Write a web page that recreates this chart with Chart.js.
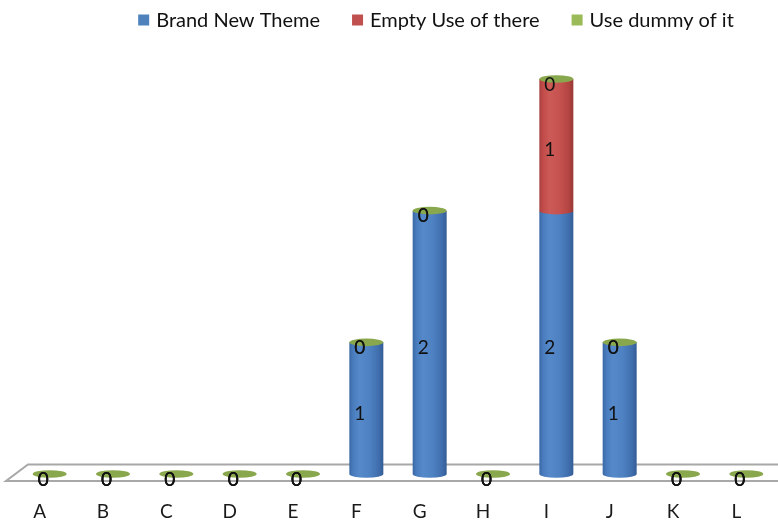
<!DOCTYPE html>
<html>
<head>
<meta charset="utf-8">
<script src="https://cdn.jsdelivr.net/npm/chart.js@4/dist/chart.umd.min.js"></script>
<style>
  html, body { margin: 0; padding: 0; background: #ffffff; }
  #wrap { width: 778px; height: 521px; position: relative; }
</style>
</head>
<body>
<div id="wrap"><canvas id="chart"></canvas></div>
<script>
// Categories and series values
const categories = ['A', 'B', 'C', 'D', 'E', 'F', 'G', 'H', 'I', 'J', 'K', 'L'];
const brandNewTheme = [0, 0, 0, 0, 0, 1, 2, 0, 2, 1, 0, 0];
const emptyUseOfThere = [0, 0, 0, 0, 0, 0, 0, 0, 1, 0, 0, 0];
const useDummyOfIt = [0, 0, 0, 0, 0, 0, 0, 0, 0, 0, 0, 0];
const seriesNames = ['Brand New Theme', 'Empty Use of there', 'Use dummy of it'];
const valueRange = [0, 3];

const FONT = 'Lato, "Noto Sans", sans-serif';
const FONT_SIZE = 19;
const LEGEND_FONT_SIZE = 20;

// Colour stops for the rounded (cylinder) body of each series
const palette = [
  { base: '#4f81bd', stops: ['#3b68a6', '#4a7dbe', '#5589ca', '#4d81c1', '#416fae', '#345d96'] },
  { base: '#c0504d', stops: ['#a9413f', '#c24c49', '#cc5a56', '#c6524f', '#b44542', '#983835'] },
  { base: '#9bbb59', stops: ['#7f9c44', '#90ae52', '#9bbb59', '#90ae52', '#84a146', '#728c3c'] }
];
const capColour = '#89a74c';

function bodyGradient(ctx, x, rx, stops) {
  const g = ctx.createLinearGradient(x - rx, 0, x + rx, 0);
  const pos = [0, 0.12, 0.3, 0.6, 0.85, 1];
  stops.forEach((c, i) => g.addColorStop(pos[i], c));
  return g;
}

const cylinderPlugin = {
  id: 'cylinders',
  beforeDatasetsDraw(chart) {
    const ctx = chart.ctx;
    const area = chart.chartArea;
    const yScale = chart.scales.y;
    const floorY = yScale.getPixelForValue(0);
    const ry = 3.8;

    // Floor plane
    ctx.save();
    ctx.strokeStyle = '#a8a8a8';
    ctx.lineWidth = 2;
    ctx.beginPath();
    ctx.moveTo(chart.width, floorY - 9.5);
    ctx.lineTo(area.left + 10, floorY - 9.5);
    ctx.lineTo(area.left - 12, floorY + 7);
    ctx.lineTo(chart.width, floorY + 7);
    ctx.stroke();
    ctx.restore();

    const metas = chart.data.datasets.map((d, i) => chart.getDatasetMeta(i));

    categories.forEach((cat, idx) => {
      metas.forEach((meta, di) => {
        const value = chart.data.datasets[di].data[idx];
        if (!(value > 0)) return;
        const p = meta.data[idx].getProps(['x', 'y', 'base', 'width'], true);
        const rx = p.width / 2;
        ctx.save();
        ctx.beginPath();
        ctx.moveTo(p.x - rx, p.y);
        ctx.lineTo(p.x - rx, p.base);
        ctx.ellipse(p.x, p.base, rx, ry, 0, Math.PI, 0, true);
        ctx.lineTo(p.x + rx, p.y);
        ctx.closePath();
        ctx.fillStyle = bodyGradient(ctx, p.x, rx, palette[di].stops);
        ctx.fill();
        ctx.restore();
      });
      // Top cap of the stack (last series sits on top)
      const top = metas[metas.length - 1].data[idx].getProps(['x', 'y', 'width'], true);
      ctx.save();
      ctx.beginPath();
      ctx.ellipse(top.x, top.y, top.width / 2, ry, 0, 0, Math.PI * 2);
      ctx.fillStyle = capColour;
      ctx.fill();
      ctx.restore();
    });

    // Value labels
    ctx.save();
    ctx.font = FONT_SIZE + 'px ' + FONT;
    ctx.fillStyle = '#111';
    ctx.textAlign = 'center';
    ctx.textBaseline = 'middle';
    metas.forEach((meta, di) => {
      meta.data.forEach((bar, idx) => {
        const p = bar.getProps(['x', 'y', 'base'], true);
        const value = chart.data.datasets[di].data[idx];
        ctx.fillText(String(value), p.x - 6.5, (p.y + p.base) / 2 + 5.5);
      });
    });
    ctx.restore();
    return false;
  },
  afterDraw(chart) {
    // Legend row
    const ctx = chart.ctx;
    ctx.save();
    ctx.font = LEGEND_FONT_SIZE + 'px ' + FONT;
    ctx.textBaseline = 'middle';
    ctx.textAlign = 'left';
    const box = 11, gap = 7, spacing = 32, cy = 20;
    const widths = seriesNames.map(n => box + gap + ctx.measureText(n).width);
    const total = widths.reduce((a, b) => a + b, 0) + spacing * (widths.length - 1);
    let x = 436 - total / 2;
    seriesNames.forEach((name, i) => {
      ctx.fillStyle = palette[i].base;
      ctx.fillRect(x, cy - box / 2, box, box);
      ctx.fillStyle = '#111';
      ctx.fillText(name, x + box + gap, cy + 0.5);
      x += widths[i] + spacing;
    });
    ctx.restore();
  }
};

const chart = new Chart(document.getElementById('chart'), {
  type: 'bar',
  data: {
    labels: categories,
    datasets: [
      { label: seriesNames[0], data: brandNewTheme, backgroundColor: palette[0].base },
      { label: seriesNames[1], data: emptyUseOfThere, backgroundColor: palette[1].base },
      { label: seriesNames[2], data: useDummyOfIt, backgroundColor: palette[2].base }
    ]
  },
  options: {
    responsive: true,
    maintainAspectRatio: false,
    animation: false,
    layout: { padding: { top: 79, left: 18, right: 0, bottom: 0 } },
    datasets: { bar: { categoryPercentage: 1, barPercentage: 0.537 } },
    plugins: {
      legend: { display: false },
      tooltip: { enabled: false }
    },
    scales: {
      x: {
        stacked: true,
        grid: { display: false, drawTicks: false },
        border: { display: false },
        afterFit(scale) { scale.height = 47; },
        ticks: {
          color: '#1a1a1a',
          font: { family: FONT, size: FONT_SIZE },
          padding: 26,
          labelOffset: -10,
          maxRotation: 0,
          autoSkip: false
        }
      },
      y: {
        stacked: true,
        display: false,
        min: valueRange[0],
        max: valueRange[1]
      }
    }
  },
  plugins: [cylinderPlugin]
});
</script>
</body>
</html>
